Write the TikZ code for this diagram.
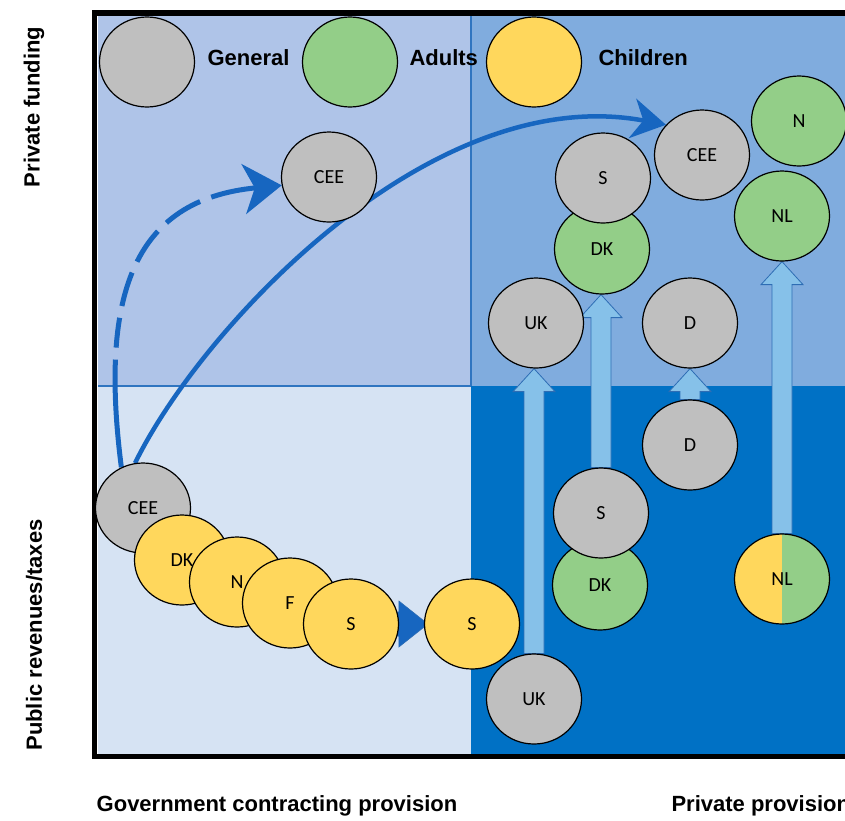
\documentclass[tikz,border=0pt]{standalone}
\usepackage{fontspec}
\setmainfont{Carlito}
\newfontfamily\axisfont{Liberation Sans}
\usetikzlibrary{calc, positioning, arrows.meta, shapes.geometric}

\definecolor{quadTL}{HTML}{AFC4E8}
\definecolor{quadTR}{HTML}{80ACDE}
\definecolor{quadBL}{HTML}{D6E3F3}
\definecolor{quadBR}{HTML}{0071C5}
\definecolor{gridBlue}{HTML}{2F75C0}
\definecolor{blockFill}{HTML}{86C1E9}
\definecolor{blockLine}{HTML}{2E6DB4}
\definecolor{arrowBlue}{HTML}{1766C0}
\definecolor{genGray}{HTML}{BFBFBF}
\definecolor{adultGreen}{HTML}{93CE88}
\definecolor{childYellow}{HTML}{FFD75C}

\pgfdeclarelayer{back}
\pgfdeclarelayer{links}
\pgfsetlayers{back,links,main}

% upward block arrow from one circle to the one above it
\newcommand{\blockup}[2]{%
  \draw[blockarr] let \p1=(#1.north), \p2=(#2.south) in
    (\x1-10pt,\y1) -- (\x1-10pt,\y2-23pt) -- (\x1-21pt,\y2-23pt) -- (\x1,\y2)
    -- (\x1+21pt,\y2-23pt) -- (\x1+10pt,\y2-23pt) -- (\x1+10pt,\y1) -- cycle;}

\begin{document}
\begin{tikzpicture}[
    x=1pt, y=-1pt,
    ctry/.style={ellipse, draw, line width=1.2pt, minimum width=95pt, minimum height=90pt, inner sep=0pt, font=\fontsize{20}{22}\selectfont},
    general/.style={ctry, fill=genGray},
    adult/.style={ctry, fill=adultGreen},
    child/.style={ctry, fill=childYellow},
    legtext/.style={anchor=west, font=\axisfont\bfseries\fontsize{22}{24}\selectfont},
    axistext/.style={font=\axisfont\bfseries\fontsize{22}{24}\selectfont},
    gridline/.style={draw=gridBlue, line width=1.2pt},
    blockarr/.style={fill=blockFill, draw=blockLine, line width=0.8pt},
    darkblock/.style={fill=arrowBlue, draw=blockLine, line width=0.6pt},
    curvearr/.style={draw=arrowBlue, line width=5pt}
]
\useasboundingbox (0,0) rectangle (845,820);
\clip (0,0) rectangle (845,820);

% quadrants and frame
\begin{pgfonlayer}{back}
\fill[quadTL] (98,16) rectangle (471,386);
\fill[quadTR] (471,16) rectangle (870,386);
\fill[quadBL] (98,386) rectangle (471,754);
\fill[quadBR] (471,386) rectangle (870,754);
\draw[gridline] (471,16) -- (471,386);
\draw[gridline] (98,386) -- (471,386);
\draw[line width=5.5pt] (94.5,13) rectangle (880,756.5);
\end{pgfonlayer}

% legend
\node[general] (lgGen) at (147,62) {};
\node[legtext] (lgGenT) at (204,58) {General};
\node[adult] (lgAdu) at (350,62) {};
\node[legtext] (lgAduT) at (406,58) {Adults};
\node[child] (lgChi) at (534,62) {};
\node[legtext] (lgChiT) at (595,58) {Children};

% private funding
\node[general] (ceeTL) at (329,177) {CEE};
\node[adult] (dkTR) at (602,249) {DK};
\node[general] (sTR) at (603,178) {S};
\node[general] (ceeTR) at (702,155) {CEE};
\node[adult] (nTR) at (799,121) {N};
\node[adult] (nlTR) at (782,216) {NL};
\node[general] (ukTR) at (536,323) {UK};
\node[general] (dTR) at (690,323) {D};

% public funding
\node[general] (dBR) at (690,445) {D};
\node[adult] (dkBR) at (600,585) {DK};
\node[general] (sBR) at (601,513) {S};
\node[ctry, path picture={
    \fill[childYellow] (path picture bounding box.south west) rectangle (path picture bounding box.north);
    \fill[adultGreen] (path picture bounding box.south) rectangle (path picture bounding box.north east);}]
    (nlBR) at (782,579) {NL};
\node[child] (sBRy) at (472,624) {S};
\node[general] (ukBR) at (534,699) {UK};
\node[general] (ceeBL) at (143,508) {CEE};
\node[child] (dkBL) at (182,560) {DK};
\node[child] (nBL) at (237,582) {N};
\node[child] (fBL) at (290,603) {F};
\node[child] (sBL) at (351,624) {S};

% arrows
\begin{pgfonlayer}{links}
\blockup{ukBR}{ukTR}
\blockup{sBR}{dkTR}
\blockup{dBR}{dTR}
\blockup{nlBR}{nlTR}
\draw[darkblock] let \p1=(sBL.east), \p2=(sBRy.west) in
    (\x1-4pt,\y1+12pt) -- (\x2-25pt,\y1+12pt) -- (\x2-25pt,\y1+23pt) -- (\x2+4pt,\y1)
    -- (\x2-25pt,\y1-23pt) -- (\x2-25pt,\y1-12pt) -- (\x1-4pt,\y1-12pt) -- cycle;
\draw[curvearr, dash pattern=on 108pt off 12pt on 30pt off 12pt on 35pt off 12pt on 37pt off 12pt on 40pt off 12pt on 120pt,
    -{Stealth[length=38pt, width=50pt, inset=11pt]}]
    (ceeBL.118) .. controls (100,300) and (130,200) .. (ceeTL.190);
\draw[curvearr, line width=4.5pt, -{Stealth[length=34pt, width=40pt, inset=11pt]}]
    (ceeBL.100) .. controls (200,330) and (430,80) .. (ceeTR.140);
\end{pgfonlayer}

% axis labels
\node[axistext, rotate=90] (yTop) at (34,107) {Private funding};
\node[axistext, rotate=90] (yBot) at (34,635) {Public revenues/taxes};
\node[axistext] (xLeft) at (277,806) {Government contracting provision};
\node[axistext, anchor=west] (xRight) at (668,806) {Private provision};
\end{tikzpicture}
\end{document}
